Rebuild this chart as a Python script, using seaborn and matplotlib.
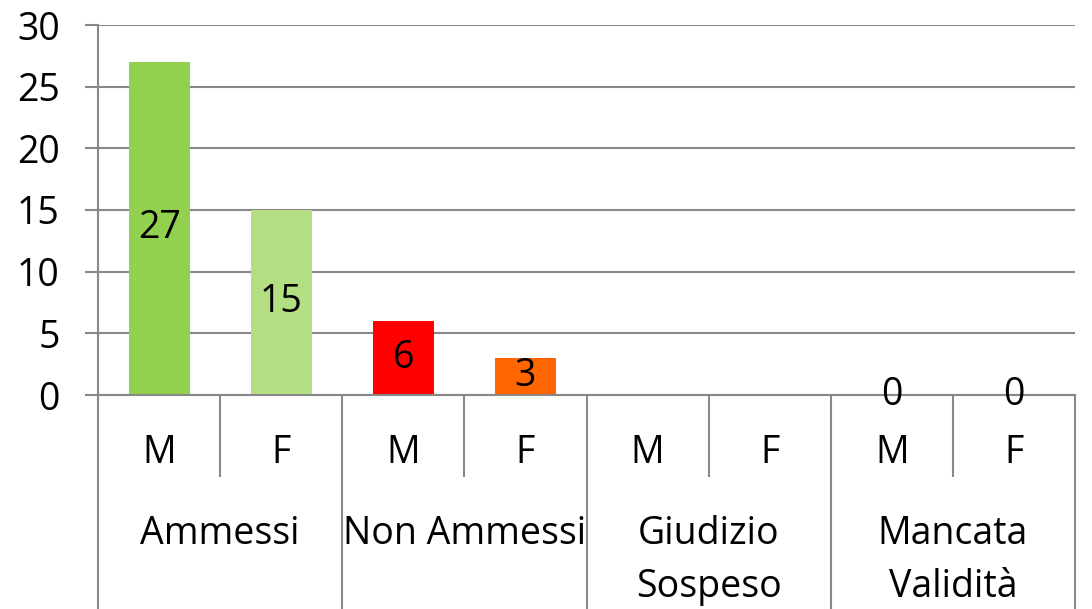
import matplotlib
matplotlib.use("Agg")
import matplotlib.pyplot as plt
import matplotlib.transforms as mtransforms
import numpy as np
import pandas as pd
import seaborn as sns

# Esiti per gruppo e sesso
groups = ["Ammessi", "Non Ammessi", "Giudizio\nSospeso", "Mancata\nValidità"]
sexes = ["M", "F"]
values = [27, 15, 6, 3, np.nan, np.nan, 0, 0]
colors = ["#92D050", "#B3DE81", "#FF0000", "#FF6600",
          "#92D050", "#B3DE81", "#92D050", "#B3DE81"]
yticks = [0, 5, 10, 15, 20, 25, 30]

slots = [f"{g} {s}" for g in groups for s in sexes]
df = pd.DataFrame({"slot": slots, "value": values})

sns.set_theme(style="white")
plt.rcParams["font.family"] = ["Open Sans", "DejaVu Sans"]

GRID = "#888888"
FS = 27

fig = plt.figure(figsize=(10.92, 6.09), dpi=100)
ax = fig.add_axes([98 / 1092, 1 - 395 / 609, (1075 - 98) / 1092, 370 / 609])

sns.barplot(data=df, x="slot", y="value", hue="slot", palette=colors,
            width=0.5, legend=False, ax=ax, saturation=1, linewidth=0)

ax.set_xlim(-0.5, len(slots) - 0.5)
ax.set_ylim(0, 30)
ax.set_yticks(yticks)
ax.set_yticklabels([str(t) for t in yticks], fontsize=FS, color="black")
ax.set_xticks([])
ax.set_xlabel("")
ax.set_ylabel("")
ax.yaxis.grid(True, color=GRID, linewidth=1.5)
ax.set_axisbelow(True)
ax.tick_params(axis="y", length=9.5, width=1.5, color=GRID, pad=18, left=True)
for side in ["top", "right"]:
    ax.spines[side].set_visible(False)
for side in ["left", "bottom"]:
    ax.spines[side].set_color(GRID)
    ax.spines[side].set_linewidth(1.5)

# Etichette dei valori al centro delle barre
for i, v in enumerate(values):
    if np.isnan(v):
        continue
    ax.text(i, v / 2, f"{v:g}", ha="center", va="center", fontsize=FS, color="black")

# Asse delle categorie a due livelli
trans = mtransforms.blended_transform_factory(ax.transData, ax.transAxes)
px = 1 / 370.0
inner_bottom = -(477 - 395) * px
outer_bottom = -(609 - 395) * px - 0.05
for k in range(len(slots) + 1):
    xb = k - 0.5
    ybot = outer_bottom if k % 2 == 0 else inner_bottom
    ax.plot([xb, xb], [0, ybot], transform=trans, color=GRID,
            linewidth=1.5, clip_on=False, solid_capstyle="butt")

for i, s in enumerate(slots):
    ax.text(i, -(453 - 395) * px, s.split(" ")[-1], transform=trans,
            ha="center", va="center", fontsize=FS, color="black")

for j, g in enumerate(groups):
    xc = 2 * j + 0.5
    for n, line in enumerate(g.split("\n")):
        ax.text(xc, -(534 + 53 * n - 395) * px, line, transform=trans,
                ha="center", va="center", fontsize=FS, color="black")

fig.savefig("out.png", dpi=100)
